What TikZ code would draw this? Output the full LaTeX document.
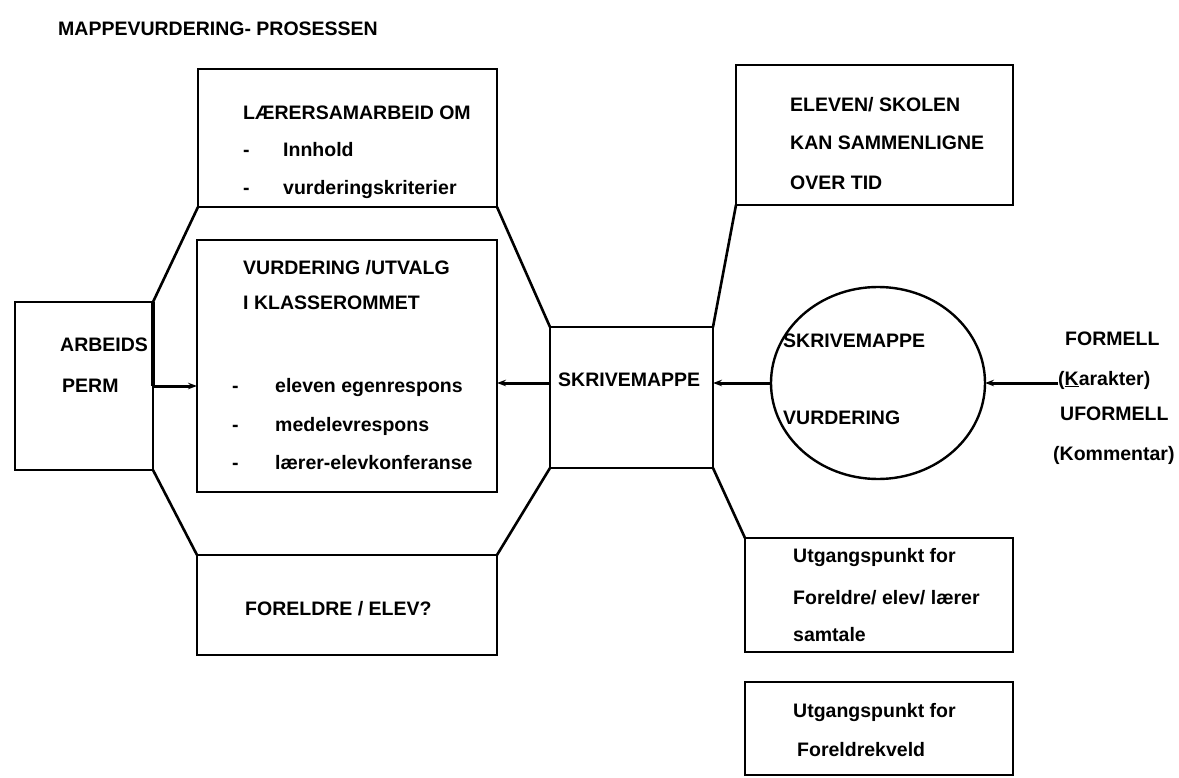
\documentclass[tikz,border=0pt]{standalone}
\usepackage{fontspec}
\setmainfont{Liberation Sans}
\usetikzlibrary{arrows.meta,shapes.geometric}
\begin{document}
\begin{tikzpicture}[x=1pt,y=-1pt,
  box/.style={draw, line width=2.4pt, rectangle, inner sep=0pt, outer sep=0pt},
  conn/.style={line width=2.6pt, line cap=round},
  arr/.style={line width=3pt, -{Stealth[length=9pt,width=6.5pt]}},
  txt/.style={anchor=base west, inner sep=0pt, font=\fontsize{19.5}{19.5}\selectfont\bfseries},
  ttl/.style={anchor=base west, inner sep=0pt, font=\fontsize{19.5}{19.5}\selectfont\bfseries}]
\useasboundingbox (0,0) rectangle (1179,778);
% title
\node[ttl] (title) at (58,36) {MAPPEVURDERING- PROSESSEN};
% boxes
\node[box, minimum width=138pt, minimum height=168pt] (arb) at (84,386) {};
\node[box, minimum width=299pt, minimum height=138pt] (lar) at (347.5,138) {};
\node[box, minimum width=300pt, minimum height=252pt] (vur) at (347,366) {};
\node[box, minimum width=300pt, minimum height=100pt] (for) at (347,605) {};
\node[box, minimum width=163pt, minimum height=141pt] (skr) at (631.5,397.5) {};
\node[box, minimum width=277pt, minimum height=140pt] (elv) at (874.5,135) {};
\node[box, minimum width=268pt, minimum height=114pt] (utg1) at (879,595) {};
\node[box, minimum width=268pt, minimum height=93pt] (utg2) at (879,728.5) {};
\node[draw, line width=2.4pt, ellipse, inner sep=0pt, outer sep=0pt, minimum width=214pt, minimum height=192pt] (circ) at (878,383) {};
% texts
\node[txt] (arb1) at (60,352) {ARBEIDS};
\node[txt] (arb2) at (62,392) {PERM};
\node[txt] (lar1) at (243,120) {LÆRERSAMARBEID OM};
\node[txt] (lar2) at (243,157) {-};
\node[txt] (lar3) at (283,157) {Innhold};
\node[txt] (lar4) at (243,195) {-};
\node[txt] (lar5) at (283,195) {vurderingskriterier};
\node[txt] (vur1) at (243,275) {VURDERING /UTVALG};
\node[txt] (vur2) at (243,309) {I KLASSEROMMET};
\node[txt] (vur3) at (232,392) {-};
\node[txt] (vur4) at (275,392) {eleven egenrespons};
\node[txt] (vur5) at (232,431) {-};
\node[txt] (vur6) at (275,431) {medelevrespons};
\node[txt] (vur7) at (232,469) {-};
\node[txt] (vur8) at (275,469) {lærer-elevkonferanse};
\node[txt] (for1) at (245,615) {FORELDRE / ELEV?};
\node[txt] (skr1) at (558,386) {SKRIVEMAPPE};
\node[txt] (cir1) at (783,348) {SKRIVEMAPPE};
\node[txt] (cir2) at (783,424) {VURDERING};
\node[txt] (elv1) at (790,112) {ELEVEN/ SKOLEN};
\node[txt] (elv2) at (790,150) {KAN SAMMENLIGNE};
\node[txt] (elv3) at (790,190) {OVER TID};
\node[txt] (utg11) at (793,562) {Utgangspunkt for};
\node[txt] (utg12) at (793,604) {Foreldre/ elev/ lærer};
\node[txt] (utg13) at (793,641) {samtale};
\node[txt] (utg21) at (793,717) {Utgangspunkt for};
\node[txt] (utg22) at (797,756) {Foreldrekveld};
\node[txt] (frm1) at (1065,345) {FORMELL};
\node[txt] (frm2) at (1058,385) {(\underline{K}arakter)};
\node[txt] (frm3) at (1060,420) {UFORMELL};
\node[txt] (frm4) at (1053,460) {(Kommentar)};
\coordinate (karend) at (1058,383);
% frame connectors
\draw[conn] (arb.north east) -- (lar.south west);
\draw[conn] (arb.south east) -- (for.north west);
\draw[conn] (lar.south east) -- (skr.north west);
\draw[conn] (for.north east) -- (skr.south west);
\draw[conn] (elv.south west) -- (skr.north east);
\draw[conn] (skr.south east) -- (utg1.north west);
% thicker upper part of the right edge of ARBEIDS PERM
\draw[line width=4pt] (arb.north east) -- (arb.east);
% arrows
\draw[arr] (arb.east) -- (arb.east -| vur.west);
\draw[arr] (skr.west |- circ.west) -- (circ.west -| vur.east);
\draw[arr] (circ.west) -- (circ.west -| skr.east);
\draw[arr] (karend) -- (circ.east);
\end{tikzpicture}
\end{document}
